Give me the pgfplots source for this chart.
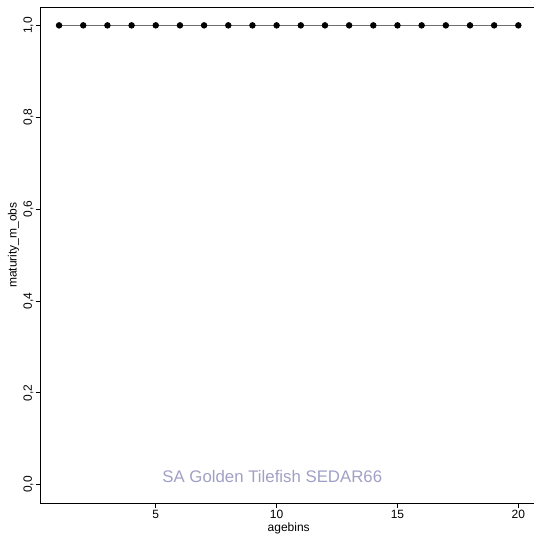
\documentclass[border=0pt]{standalone}
\usepackage{pgfplots}
\pgfplotsset{compat=1.18}
\usepackage{fontspec}
\setmainfont{Liberation Sans}
\definecolor{titlec}{RGB}{160,160,198}
\definecolor{linec}{RGB}{110,110,110}
\begin{document}
\begin{tikzpicture}[x=1pt,y=1pt]
\begin{scope}
\clip (0,0) rectangle (534,540);
\begin{axis}[
  at={(40.7pt,37pt)}, anchor=south west,
  scale only axis, width=496pt, height=496pt,
  xmin=0.24, xmax=20.76, ymin=-0.04, ymax=1.04,
  xtick={5,10,15,20},
  ytick={0,0.2,0.4,0.6,0.8,1.0},
  tick align=outside, major tick length=5pt,
  tick style={black, line width=0.6pt},
  axis line style={black, line width=0.75pt},
  xtick pos=bottom, ytick pos=left,
  font=\fontsize{12}{14}\selectfont,
  /pgf/number format/assume math mode=true,
  yticklabel style={rotate=90, anchor=south, inner sep=2pt, /pgf/number format/.cd, fixed, fixed zerofill, precision=1, use comma},
  xticklabel style={anchor=north, inner sep=2pt},
  xlabel={agebins}, ylabel={maturity\_m\_obs},
  xlabel style={at={(axis description cs:0.5,0)}, anchor=north, yshift=-16pt},
  ylabel style={at={(axis description cs:0,0.52)}, anchor=south, rotate=0, yshift=18pt},
  clip=false,
]
\addplot[linec, line width=0.8pt, mark=*, mark size=2.8pt, mark options={black, fill=black}]
coordinates {(1,1)(2,1)(3,1)(4,1)(5,1)(6,1)(7,1)(8,1)(9,1)(10,1)(11,1)(12,1)(13,1)(14,1)(15,1)(16,1)(17,1)(18,1)(19,1)(20,1)};
\node[titlec, font=\fontsize{16.8}{19}\selectfont] at (axis cs:9.82,0.017) {SA Golden Tilefish SEDAR66};
\end{axis}
\end{scope}
\pgfresetboundingbox
\useasboundingbox (0,0) rectangle (534,540);
\end{tikzpicture}
\end{document}
